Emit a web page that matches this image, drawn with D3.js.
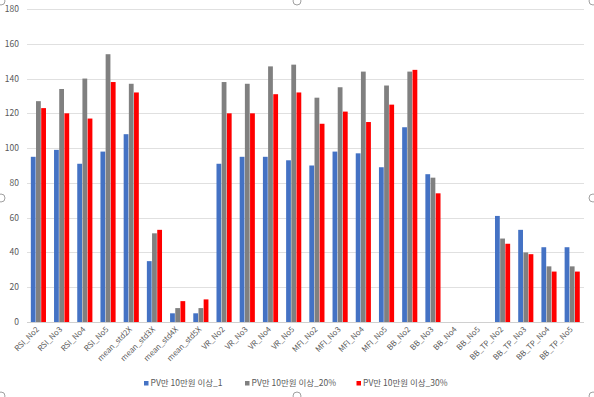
<!DOCTYPE html>
<html><head><meta charset="utf-8">
<script src="https://cdn.jsdelivr.net/npm/d3@7/dist/d3.min.js"></script>
<style>
html,body{margin:0;padding:0;background:#fff;}
svg{display:block;font-family:"Noto Sans CJK KR","Noto Sans",sans-serif;}
</style></head>
<body><svg id="c" width="594" height="397"></svg>
<script>
const categories = ["RSI_No2","RSI_No3","RSI_No4","RSI_No5","mean_std2X","mean_std3X","mean_std4X","mean_std5X","VR_No2","VR_No3","VR_No4","VR_No5","MFI_No2","MFI_No3","MFI_No4","MFI_No5","BB_No2","BB_No3","BB_No4","BB_No5","BB_TP_No2","BB_TP_No3","BB_TP_No4","BB_TP_No5"];
const seriesNames = ["PV만 10만원 이상_1","PV만 10만원 이상_20%","PV만 10만원 이상_30%"];
const series1 = [95,99,91,98,108,35,5,5,91,95,95,93,90,98,97,89,112,85,0,0,61,53,43,43];
const series20 = [127,134,140,154,137,51,8,8,138,137,147,148,129,135,144,136,144,83,0,0,48,40,32,32];
const series30 = [123,120,117,138,132,53,12,13,120,120,131,132,114,121,115,125,145,74,0,0,45,39,29,29];
const yTicks = [0,20,40,60,80,100,120,140,160,180];
const colors = ["#4472c4","#808080","#ff0000"];

(function(){
const svg = d3.select("#c");
const pL = 27, pR = 584, pT = 9, pB = 322;
const x = d3.scaleBand().domain(categories).range([pL,pR]).paddingInner(0.33).paddingOuter(0.165);
const xs = d3.scaleBand().domain([0,1,2]).range([0,x.bandwidth()]).padding(0);
const y = d3.scaleLinear().domain([0,180]).range([pB,pT]);

svg.append("g").selectAll("line").data(yTicks).join("line")
  .attr("x1",pL).attr("x2",pR)
  .attr("y1",d=>Math.round(y(d))+0.5).attr("y2",d=>Math.round(y(d))+0.5)
  .attr("stroke",d=>d===0?"#d0d0d0":"#e0e0e0").attr("stroke-width",1);

svg.append("g").selectAll("text").data(yTicks).join("text")
  .attr("x",19).attr("y",d=>y(d)).attr("dy","0.35em")
  .attr("text-anchor","end").attr("font-size",8.5).attr("fill","#595959")
  .text(d=>d);

const data = [series1,series20,series30];
const g = svg.append("g");
data.forEach((vals,si)=>{
  g.append("g").selectAll("rect").data(vals).join("rect")
    .attr("x",(d,i)=>x(categories[i])+xs(si))
    .attr("width",xs.bandwidth()-0.4)
    .attr("y",d=>y(d))
    .attr("height",d=>y(0)-y(d))
    .attr("fill",colors[si]);
});

svg.append("g").selectAll("text").data(categories).join("text")
  .attr("transform",d=>`translate(${x(d)+x.bandwidth()/2-1},${pB+6}) rotate(-45)`)
  .attr("text-anchor","end").attr("dy","0.35em")
  .attr("font-size",7.8).attr("fill","#595959")
  .text(d=>d);

const legX = [144,245,356.5];
const leg = svg.append("g");
seriesNames.forEach((n,i)=>{
  leg.append("rect").attr("x",legX[i]).attr("y",381).attr("width",4.5).attr("height",4.5).attr("fill",colors[i]);
  leg.append("text").attr("x",legX[i]+6.5).attr("y",383.5).attr("dy","0.35em")
    .attr("font-size",8.5).attr("fill","#595959").text(n);
});

const handles = [[1,1],[297,1],[593,1],[1,198],[593,198],[1,396],[297,396],[593,396]];
svg.append("g").selectAll("circle").data(handles).join("circle")
  .attr("cx",d=>d[0]).attr("cy",d=>d[1]).attr("r",4)
  .attr("fill","#fff").attr("stroke","#a0a0a0").attr("stroke-width",1);
})();
</script></body></html>
